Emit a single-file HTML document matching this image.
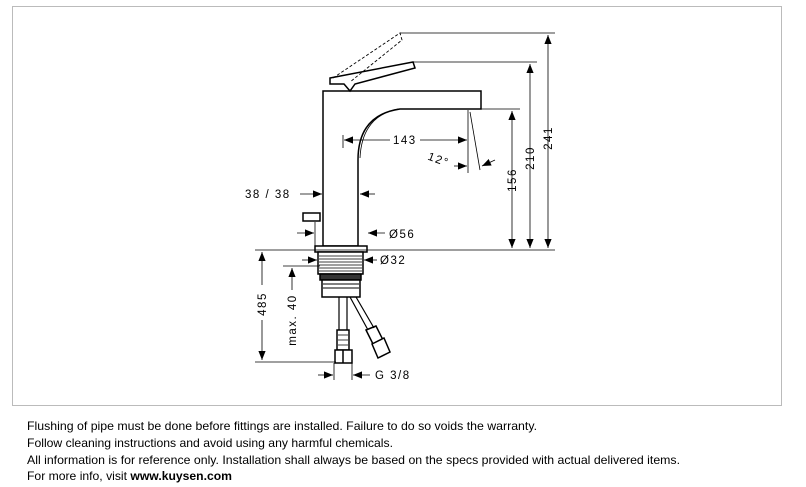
<!DOCTYPE html>
<html><head><meta charset="utf-8"><style>
html,body{margin:0;padding:0;background:#fff;}
svg{display:block;font-family:"Liberation Sans",sans-serif;}
</style></head><body>
<svg width="806" height="487" viewBox="0 0 806 487" xmlns="http://www.w3.org/2000/svg">
<defs>
<marker id="a" viewBox="0 0 10 10" refX="10" refY="5" markerWidth="9" markerHeight="9" orient="auto-start-reverse" markerUnits="userSpaceOnUse"><path d="M0,1 L10,5 L0,9 z" fill="#000"/></marker>
</defs>
<rect x="12.5" y="6.5" width="769" height="399" fill="none" stroke="#bbb" stroke-width="1"/>
<g stroke="#000" fill="none" stroke-width="1.5">
<path d="M323,91 H481 V109 H400 Q358,115 358,160 V246 H323 Z" fill="#fff"/>
<path d="M470,109 H398 Q362,116 360,158" stroke-width="0.8"/>
<path d="M330,78 L413,62 L415,68 L355,84 L350,91 L344,84 L330,84 Z" fill="#fff"/>
<path d="M333,78 L400,33 L402,40 L350,82" stroke-dasharray="3,2" stroke-width="0.9"/>
<rect x="303" y="213" width="17" height="8" fill="#fff"/>
<rect x="315" y="246" width="52" height="6" fill="#fff"/>
<rect x="318" y="252" width="45" height="22" fill="#fff"/>
<path d="M319,256H362M319,259H362M319,262H362M319,265H362M319,268H362M319,271H362" stroke-width="0.8"/>
<rect x="320" y="274" width="41" height="6" fill="#333"/>
<rect x="322" y="280" width="38" height="17" fill="#fff"/>
<path d="M323,284H359M323,288H359" stroke-width="1"/>
<path d="M339,297V330M347,297V330" stroke-width="1.2"/>
<rect x="337" y="330" width="12" height="20"/>
<path d="M338,335H348M338,340H348M338,345H348" stroke-width="0.7"/>
<rect x="335" y="350" width="17" height="13" fill="#fff"/>
<path d="M343,350V363"/>
<path d="M350,297 L368,330 M356,297 L374,328" stroke-width="1.2"/>
<path d="M366,330 L376,326 L383,340 L373,344 Z"/>
<path d="M372,344 L384,338 L390,352 L378,358 Z" fill="#fff"/>
<g stroke-width="0.8">
<path d="M400,33H555M413,62H537M470,109H520M255,250H555"/>
<line x1="548" y1="35" x2="548" y2="248" marker-start="url(#a)" marker-end="url(#a)"/>
<line x1="530" y1="64" x2="530" y2="248" marker-start="url(#a)" marker-end="url(#a)"/>
<line x1="512" y1="111" x2="512" y2="248" marker-start="url(#a)" marker-end="url(#a)"/>
<line x1="343" y1="135" x2="343" y2="148"/>
<line x1="468" y1="110" x2="468" y2="173"/>
<line x1="344" y1="140" x2="390" y2="140" marker-start="url(#a)"/>
<line x1="420" y1="140" x2="467" y2="140" marker-end="url(#a)"/>
<line x1="470" y1="112" x2="480" y2="170"/>
<line x1="454" y1="166" x2="467" y2="166" marker-end="url(#a)"/>
<line x1="495" y1="160" x2="482" y2="166" marker-end="url(#a)"/>
<line x1="300" y1="194" x2="322" y2="194" marker-end="url(#a)"/>
<line x1="375" y1="194" x2="360" y2="194" marker-end="url(#a)"/>
<line x1="315" y1="222" x2="315" y2="246"/>
<line x1="297" y1="233" x2="314" y2="233" marker-end="url(#a)"/>
<line x1="385" y1="233" x2="368" y2="233" marker-end="url(#a)"/>
<line x1="302" y1="260" x2="317" y2="260" marker-end="url(#a)"/>
<line x1="377" y1="260" x2="364" y2="260" marker-end="url(#a)"/>
<line x1="262" y1="252" x2="262" y2="285" marker-start="url(#a)"/>
<line x1="262" y1="320" x2="262" y2="360" marker-end="url(#a)"/>
<path d="M255,362H336"/>
<line x1="292" y1="268" x2="292" y2="290" marker-start="url(#a)"/>
<path d="M283,266H320"/>
<path d="M334,363V380M352,363V380"/>
<line x1="318" y1="375" x2="333" y2="375" marker-end="url(#a)"/>
<line x1="370" y1="375" x2="353" y2="375" marker-end="url(#a)"/>
</g>
</g>
<g font-size="11.5" fill="#000" letter-spacing="1.5">
<text x="393" y="144">143</text>
<text x="428" y="162" transform="rotate(20 435 158)">12°</text>
<text x="245" y="198">38 / 38</text>
<text x="389" y="238">Ø56</text>
<text x="380" y="264">Ø32</text>
<text x="375" y="379">G 3/8</text>
<text transform="translate(516,180) rotate(-90)" text-anchor="middle">156</text>
<text transform="translate(534,158) rotate(-90)" text-anchor="middle">210</text>
<text transform="translate(552,138) rotate(-90)" text-anchor="middle">241</text>
<text transform="translate(266,304) rotate(-90)" text-anchor="middle">485</text>
<text transform="translate(296,320) rotate(-90)" text-anchor="middle">max. 40</text>
</g>
<g font-size="12" fill="#000">
<text x="27" y="430" textLength="510" lengthAdjust="spacingAndGlyphs">Flushing of pipe must be done before fittings are installed. Failure to do so voids the warranty.</text>
<text x="27" y="447" textLength="366" lengthAdjust="spacingAndGlyphs">Follow cleaning instructions and avoid using any harmful chemicals.</text>
<text x="27" y="464" textLength="653" lengthAdjust="spacingAndGlyphs">All information is for reference only. Installation shall always be based on the specs provided with actual delivered items.</text>
<text x="27" y="480" textLength="205" lengthAdjust="spacingAndGlyphs">For more info, visit <tspan font-weight="bold">www.kuysen.com</tspan></text>
</g>
</svg>
</body></html>
